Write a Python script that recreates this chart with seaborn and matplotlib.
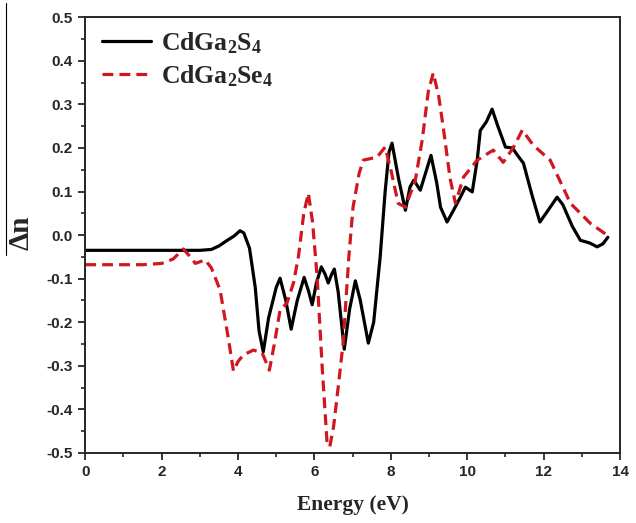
import numpy as np
import pandas as pd
import matplotlib
matplotlib.use("Agg")
import matplotlib.pyplot as plt
from matplotlib.lines import Line2D
from matplotlib.ticker import MultipleLocator
import seaborn as sns

# ---- data ----
s_energy = [0, 3.0, 3.3, 3.5, 3.7, 3.9, 4.05, 4.15, 4.3, 4.45, 4.55, 4.66, 4.8, 5.0, 5.1,
            5.25, 5.39, 5.55, 5.73, 5.85, 5.94, 6.05, 6.18, 6.28, 6.36, 6.45, 6.52, 6.62,
            6.78, 6.92, 7.07, 7.2, 7.41, 7.55, 7.72, 7.85, 7.95, 8.03, 8.2, 8.38, 8.5, 8.6,
            8.77, 8.9, 9.05, 9.2, 9.3, 9.47, 9.64, 9.82, 9.95, 10.13, 10.26, 10.34, 10.5,
            10.65, 10.8, 11.0, 11.18, 11.3, 11.47, 11.7, 11.9, 12.1, 12.35, 12.5, 12.75,
            12.96, 13.2, 13.4, 13.55, 13.68]
s_dn = [-0.035, -0.035, -0.033, -0.025, -0.013, -0.002, 0.01, 0.005, -0.03, -0.12, -0.22,
        -0.268, -0.19, -0.12, -0.099, -0.15, -0.216, -0.15, -0.097, -0.13, -0.16, -0.11,
        -0.073, -0.09, -0.11, -0.09, -0.078, -0.13, -0.262, -0.17, -0.105, -0.15, -0.248,
        -0.2, -0.05, 0.1, 0.19, 0.211, 0.13, 0.057, 0.11, 0.126, 0.103, 0.14, 0.183, 0.12,
        0.064, 0.03, 0.057, 0.087, 0.11, 0.099, 0.172, 0.24, 0.26, 0.289, 0.25, 0.202, 0.2,
        0.185, 0.165, 0.09, 0.03, 0.055, 0.087, 0.07, 0.02, -0.012, -0.018, -0.027, -0.02,
        -0.005]

se_energy = [0, 1.5, 2.0, 2.3, 2.57, 2.75, 2.88, 3.14, 3.3, 3.53, 3.74, 3.88, 4.0, 4.14,
             4.4, 4.63, 4.82, 4.95, 5.1, 5.28, 5.45, 5.58, 5.72, 5.84, 5.95, 6.07, 6.2,
             6.33, 6.4, 6.5, 6.62, 6.75, 6.9, 7.01, 7.17, 7.28, 7.64, 7.85, 8.0, 8.19, 8.38,
             8.64, 8.82, 8.98, 9.11, 9.25, 9.37, 9.55, 9.69, 9.9, 10.26, 10.68, 10.94, 11.2,
             11.44, 11.73, 12.17, 12.45, 12.7, 13.22, 13.66]
se_dn = [-0.068, -0.068, -0.065, -0.055, -0.032, -0.05, -0.065, -0.057, -0.075, -0.126,
         -0.234, -0.312, -0.29, -0.275, -0.264, -0.27, -0.31, -0.25, -0.172, -0.156, -0.11,
         -0.05, 0.05, 0.096, 0.03, -0.096, -0.3, -0.477, -0.486, -0.44, -0.35, -0.248,
         -0.05, 0.064, 0.142, 0.172, 0.179, 0.202, 0.15, 0.073, 0.064, 0.126, 0.218, 0.33,
         0.372, 0.32, 0.248, 0.13, 0.073, 0.133, 0.172, 0.195, 0.167, 0.2, 0.241, 0.206,
         0.172, 0.12, 0.073, 0.027, 0.0]

labels = [r"CdGa$_2$S$_4$", r"CdGa$_2$Se$_4$"]
x_ticks = [0, 2, 4, 6, 8, 10, 12, 14]
y_ticks = [-0.5, -0.4, -0.3, -0.2, -0.1, 0.0, 0.1, 0.2, 0.3, 0.4, 0.5]

# ---- style ----
sns.set_style("ticks")
plt.rcParams["font.family"] = ["Liberation Sans", "DejaVu Sans"]
plt.rcParams["axes.unicode_minus"] = False
plt.rcParams["mathtext.fontset"] = "custom"
plt.rcParams["mathtext.rm"] = "Liberation Serif:bold"
plt.rcParams["mathtext.it"] = "Liberation Serif:bold"
plt.rcParams["mathtext.bf"] = "Liberation Serif:bold"

fig = plt.figure(figsize=(6.36, 5.23), dpi=100)
ax = fig.add_axes([0.134, 0.134, 0.975 - 0.134, 0.967 - 0.134])

df_s = pd.DataFrame({"Energy": s_energy, "dn": s_dn})
df_se = pd.DataFrame({"Energy": se_energy, "dn": se_dn})

sns.lineplot(data=df_s, x="Energy", y="dn", ax=ax, color="black", lw=2.3,
             label=labels[0])
sns.lineplot(data=df_se, x="Energy", y="dn", ax=ax, color="#d0161e", lw=2.3,
             linestyle=(0, (3.4, 1.9)), label=labels[1])

ax.set_xlim(0, 14)
ax.set_ylim(-0.5, 0.5)
ax.set_xticks(x_ticks)
ax.set_yticks(y_ticks)
ax.set_yticklabels([f"{v:.1f}" for v in y_ticks])
ax.xaxis.set_minor_locator(MultipleLocator(1))
ax.yaxis.set_minor_locator(MultipleLocator(0.05))
ax.tick_params(which="major", direction="out", length=5, width=1.3, labelsize=11,
               top=False, right=False, pad=4)
ax.tick_params(which="minor", direction="out", length=3, width=1.2, top=False, right=False)
for lab in ax.get_xticklabels() + ax.get_yticklabels():
    lab.set_fontweight("bold")
for sp in ax.spines.values():
    sp.set_visible(True)
    sp.set_linewidth(1.4)

ax.set_xlabel("Energy (eV)", family="Liberation Serif", fontweight="bold", fontsize=15.5)
ax.set_ylabel("Δn", family="Liberation Serif", fontweight="bold", fontsize=21)
ax.xaxis.set_label_coords(0.5, -0.119)
ax.xaxis.label.set_va("center")
ax.yaxis.set_label_coords(-0.12, 0.505)
ax.yaxis.label.set_va("center")

fig.add_artist(Line2D([6 / 636, 6 / 636], [1 - 3 / 523, 1 - 255 / 523],
                      transform=fig.transFigure, color="black", lw=0.8))

leg = ax.legend(loc="upper left", bbox_to_anchor=(0.008, 1.0), frameon=False,
                prop={"family": "Liberation Serif", "weight": "bold", "size": 18.5},
                handlelength=1.9, handletextpad=0.4, labelspacing=0.3,
                borderaxespad=0.2, borderpad=0.3)

fig.savefig("out.png", dpi=100)
